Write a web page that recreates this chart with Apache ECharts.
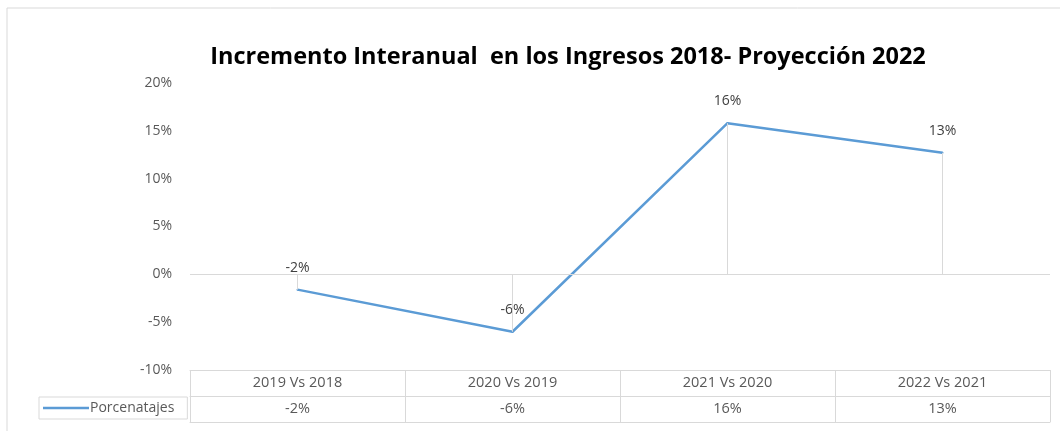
<!DOCTYPE html>
<html>
<head>
<meta charset="utf-8">
<script src="https://cdn.jsdelivr.net/npm/echarts@6/dist/echarts.min.js"></script>
<style>
  html, body { margin: 0; padding: 0; background: #fff; }
  #chart { width: 1060px; height: 431px; }
</style>
</head>
<body>
<div id="chart"></div>
<script>
var categories = ['2019 Vs 2018', '2020 Vs 2019', '2021 Vs 2020', '2022 Vs 2021'];
var porcentajes = [-1.6, -6.0, 15.8, 12.7];
var seriesName = 'Porcenatajes';
var yTicks = { min: -10, max: 20, interval: 5 };

var tableValues = porcentajes.map(function (v) { return Math.round(v) + '%'; });
var dropLines = porcentajes.map(function (v, i) {
    return [{ coord: [i, 0] }, { coord: [i, v] }];
});

var gray = '#d9d9d9';
var textColor = '#595959';
var font = 'Open Sans';

var myChart = echarts.init(document.getElementById('chart'));

option = {
    title: {
        text: 'Incremento Interanual  en los Ingresos 2018- Proyección 2022',
        left: 563,
        textAlign: 'center',
        top: 40,
        textStyle: {
            fontFamily: font,
            fontWeight: 'bold',
            fontSize: 23.5,
            color: '#000'
        }
    },
    graphic: [{
        type: 'rect',
        shape: { x: 7, y: 8, width: 1070, height: 440 },
        style: { fill: 'none', stroke: '#d9d9d9', lineWidth: 1 },
        silent: true
    }],
    legend: {
        data: [seriesName],
        left: 39,
        top: 397,
        padding: [4, 13, 4, 4],
        borderColor: gray,
        borderWidth: 1,
        icon: 'rect',
        itemWidth: 46,
        itemHeight: 2.5,
        itemGap: 0,
        textStyle: { fontFamily: font, fontSize: 14, color: textColor, padding: [0, 0, 0, -4] }
    },
    grid: {
        left: 190,
        right: 10,
        top: 83,
        bottom: 61
    },
    xAxis: [
        {
            type: 'category',
            data: categories,
            position: 'bottom',
            boundaryGap: true,
            axisLine: { show: true, onZero: false, lineStyle: { color: gray } },
            axisTick: { show: true, length: 52, lineStyle: { color: gray } },
            axisLabel: { fontFamily: font, fontSize: 14.5, color: textColor, margin: 5 },
            splitLine: { show: false }
        },
        {
            type: 'category',
            data: tableValues,
            position: 'bottom',
            offset: 26,
            boundaryGap: true,
            axisLine: { show: true, onZero: false, lineStyle: { color: gray } },
            axisTick: { show: false },
            axisLabel: { fontFamily: font, fontSize: 14.5, color: textColor, margin: 5 },
            splitLine: { show: false }
        },
        {
            type: 'category',
            data: tableValues,
            position: 'bottom',
            offset: 52,
            boundaryGap: true,
            axisLine: { show: true, onZero: false, lineStyle: { color: gray } },
            axisTick: { show: false },
            axisLabel: { show: false },
            splitLine: { show: false }
        }
    ],
    yAxis: {
        type: 'value',
        min: yTicks.min,
        max: yTicks.max,
        interval: yTicks.interval,
        axisLine: { show: false },
        axisTick: { show: false },
        splitLine: { show: false },
        axisLabel: {
            formatter: '{value}%',
            fontFamily: font,
            fontSize: 14,
            color: textColor,
            margin: 18
        }
    },
    series: [
        {
            name: seriesName,
            type: 'line',
            xAxisIndex: 0,
            data: porcentajes,
            symbol: 'circle',
            symbolSize: 2,
            showSymbol: true,
            lineStyle: { color: '#5b9bd5', width: 2.5 },
            itemStyle: { color: '#5b9bd5' },
            label: {
                show: true,
                position: 'top',
                distance: 14,
                fontFamily: font,
                fontSize: 14,
                color: '#404040',
                formatter: function (params) {
                    return Math.round(params.value) + '%';
                }
            },
            markLine: {
                silent: true,
                symbol: 'none',
                label: { show: false },
                lineStyle: { color: gray, type: 'solid', width: 1 },
                data: [{ yAxis: 0 }].concat(dropLines)
            },
            z: 3
        }
    ]
};
myChart.setOption(option);
</script>
</body>
</html>
